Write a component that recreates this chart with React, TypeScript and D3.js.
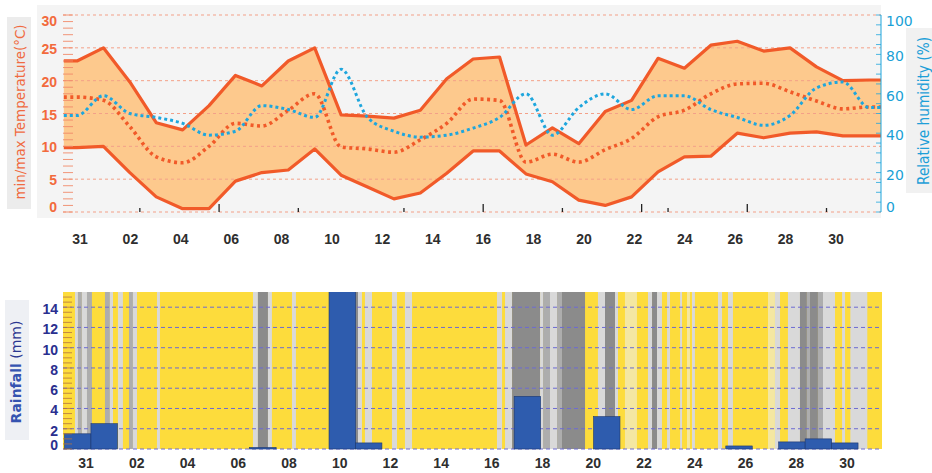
import React from "react";
import * as d3 from "d3";

// ---------- DATA ----------
const labelDays = [0, 2, 4, 6, 8, 10, 12, 14, 16, 18, 20, 22, 24, 26, 28, 30];
const dayLabels = ["31", "02", "04", "06", "08", "10", "12", "14", "16", "18", "20", "22", "24", "26", "28", "30"];

const tMax = [23, 25, 19.8, 13.6, 12.5, 16.2, 20.8, 19.2, 23, 25, 14.8, 14.6, 14.3, 15.5, 20.3, 23.3, 23.6, 10.2, 12.8, 10.4, 15.3, 17, 23.4, 21.9, 25.4, 26, 24.5, 25, 22.1, 20, 20.1];
const tMin = [9.8, 10, 6, 2.3, 0.5, 0.5, 4.7, 6, 6.4, 9.6, 5.6, 3.8, 2, 2.9, 5.9, 9.3, 9.3, 5.8, 4.6, 1.8, 1, 2.3, 6.1, 8.4, 8.5, 12, 11.3, 12, 12.2, 11.6, 11.6];
const tMean = [17.5, 17, 13, 8.4, 7.5, 10, 13.5, 13.1, 15.5, 18, 9.9, 9.6, 9.1, 11, 13.5, 17.2, 17, 7.6, 8.8, 7.6, 9.5, 11.2, 14.5, 15.5, 18, 19.5, 19.6, 18.3, 16.9, 15.7, 16];
const humidity = [49, 59, 50, 48, 45, 39, 41, 54, 52, 48, 72.5, 48, 41, 38, 39, 42.6, 48, 60, 39, 53, 60, 52, 59, 59, 52, 48, 44, 49, 63, 66, 53];

const tempTicks = [0, 5, 10, 15, 20, 25, 30];
const humTicks = [0, 20, 40, 60, 80, 100];
const rainTicks = [0, 2, 4, 6, 8, 10, 12, 14];

const rainBins = [0, 1, 7, 10, 11, 17, 20, 25, 27, 28, 29];
const rainValues = [1.5, 2.5, 0.15, 16, 0.6, 5.2, 3.2, 0.3, 0.7, 1.0, 0.6];

const axisTickPos = [2.88, 5.88, 8.88, 12.88, 15.88, 18.88, 21.88, 22.88, 25.88, 28.88];
const axisTickTall = [false, true, false, false, true, false, true, false, true, false];

// sunshine / cloud stripes in hours from start of period
const stripeStart = [9.5, 12.2, 15.8, 20.4, 36.7, 41.2, 48.5, 58.5, 62.1, 83.9, 171, 175.5, 184.6, 206.4, 263.6, 266.3, 272.6, 297.1, 308.9, 392.4, 399.7, 406.1, 431.5, 434.2, 440.5, 446.9, 451.4, 484, 490.4, 499.5, 508.5, 529.4, 533.1, 537.6, 546.7, 558.5, 564.8, 569.3, 592.9, 602, 638.3, 644.6, 656.4, 667.3, 673.6, 676.4, 683.6, 688.2, 705.5, 713];
const stripeEnd = [12.2, 15.8, 20.4, 24.9, 41.2, 44, 53, 62.1, 65.8, 86.6, 175.5, 184.6, 188.2, 210, 266.3, 269.9, 279, 301.7, 315.3, 397, 406.1, 431.5, 434.2, 440.5, 446.9, 451.4, 472.3, 490.4, 499.5, 502.2, 519.4, 533.1, 537.6, 542.1, 549.4, 560.3, 567.5, 572, 596.6, 606.5, 644.6, 649.2, 667.3, 673.6, 676.4, 683.6, 688.2, 699.1, 708.2, 728.4];
const stripeKind = ["light", "mid", "light", "mid", "mid", "light", "light", "mid", "light", "light", "light", "dark", "light", "light", "dark", "light", "light", "light", "light", "light", "light", "dark", "light", "mid", "light", "mid", "dark", "light", "dark", "light", "pale", "light", "dark", "light", "light", "light", "pale", "light", "light", "light", "pale", "light", "light", "dark", "mid", "dark", "mid", "light", "light", "light"];

// ---------- STYLE ----------
const W = 932;
const H = 473;
const ORANGE = "#f15a29";
const FILL = "#fdc98d";
const BLUE = "#1ea6dd";
const NAVY = "#2a2f8f";
const stripeColor: Record<string, string> = {
  light: "#d9d9d9",
  mid: "#adadad",
  dark: "#8b8b8b",
  pale: "#f4e7a2",
};

export default function App() {
  // top chart scales
  const px0 = 63, px1 = 881;
  const xTop = d3.scaleLinear().domain([0, 31]).range([63.8, 882.5]);
  const xTopLab = d3.scaleLinear().domain([0, 30]).range([80, 836]);
  const yT = d3.scaleLinear().domain([0, 30]).range([212, 15]);
  const yH = d3.scaleLinear().domain([0, 100]).range([212, 15]);

  // bottom chart scales
  const bx0 = 63, bx1 = 882;
  const xBot = d3.scaleLinear().domain([0, 31]).range([64.5, 884.5]);
  const xBotLab = d3.scaleLinear().domain([0, 30]).range([86, 847]);
  const yR = d3.scaleLinear().domain([0, 15.5]).range([449, 292]);

  const n = tMax.length;
  const pos = (i: number) => (i === 0 ? 0 : i === n + 1 ? 31 : i - 0.5);
  const ext = (arr: number[]) => [arr[0], ...arr, arr[n - 1]];
  const idx = d3.range(n + 2);

  const maxE = ext(tMax), minE = ext(tMin), meanE = ext(tMean), humE = ext(humidity);

  const area = d3
    .area<number>()
    .x((i) => xTop(pos(i)))
    .y0((i) => yT(minE[i]))
    .y1((i) => yT(maxE[i]));
  const lineOf = (arr: number[], y: d3.ScaleLinear<number, number>, curve: d3.CurveFactory) =>
    d3
      .line<number>()
      .x((i) => xTop(pos(i)))
      .y((i) => y(arr[i]))
      .curve(curve)(idx) as string;

  const hours = 24;
  const labelFont = "Liberation Sans, Arial, sans-serif";

  return (
    <svg width={W} height={H} style={{ position: "absolute", left: 0, top: 0, background: "#fff" }} fontFamily={labelFont}>
      <defs>
        <clipPath id="topClip">
          <rect x={px0} y={8} width={px1 - px0} height={210} />
        </clipPath>
        <clipPath id="botClip">
          <rect x={bx0} y={yR(15.5)} width={bx1 - bx0} height={yR(0) - yR(15.5) + 1} />
        </clipPath>
      </defs>

      {/* ===== TOP CHART ===== */}
      <rect x={37} y={5} width={px1 - 37} height={213} fill="#f4f4f4" />
      <rect x={7} y={17} width={24} height={192} fill="#ececec" />
      <rect x={906} y={28} width={26} height={165} fill="#f1f1f1" />

      <g clipPath="url(#topClip)">
        <path d={area(idx) as string} fill={FILL} />
        {tempTicks.map((t) => (
          <line key={"g" + t} x1={px0} x2={px1} y1={yT(t)} y2={yT(t)} stroke="#f3a088" strokeWidth={1} strokeDasharray="3 3" />
        ))}
        <path d={lineOf(maxE, yT, d3.curveLinear)} fill="none" stroke={ORANGE} strokeWidth={3.2} strokeLinejoin="round" />
        <path d={lineOf(minE, yT, d3.curveLinear)} fill="none" stroke={ORANGE} strokeWidth={3.2} strokeLinejoin="round" />
        <path d={lineOf(meanE, yT, d3.curveMonotoneX)} fill="none" stroke={ORANGE} strokeWidth={3.6} strokeDasharray="3 3.5" />
        <path d={lineOf(humE, yH, d3.curveMonotoneX)} fill="none" stroke={BLUE} strokeWidth={3} strokeDasharray="3 3" />
      </g>

      {/* left minor ticks */}
      {d3.range(0, 31).map((t) => (
        <line key={"mt" + t} x1={px0} x2={px0 + 10} y1={yT(t)} y2={yT(t)} stroke="#f08a6a" strokeWidth={0.9} />
      ))}
      {/* bottom axis small ticks */}
      {axisTickPos.map((p, i) => (
        <line key={"at" + i} x1={xTop(p)} x2={xTop(p)} y1={212} y2={212 - (axisTickTall[i] ? 8 : 4)} stroke="#222" strokeWidth={1.3} />
      ))}
      {/* right axis */}
      <line x1={px1} x2={px1} y1={15} y2={212} stroke={BLUE} strokeWidth={1} />
      {d3.range(0, 101, 5).map((h) => (
        <line key={"rh" + h} x1={px1 - 5} x2={px1} y1={yH(h)} y2={yH(h)} stroke={BLUE} strokeWidth={0.8} />
      ))}

      {/* left tick labels */}
      {tempTicks.map((t) => {
        let y = yT(t) + 1;
        if (t === 30) y = 21;
        if (t === 0) y = 207;
        return (
          <text key={"tl" + t} x={57} y={y} textAnchor="end" dominantBaseline="central" fontSize={14} fontWeight="bold" fill="#f26a3c">
            {t}
          </text>
        );
      })}
      {/* right tick labels */}
      {humTicks.map((h) => {
        let y = yH(h) + 2;
        if (h === 100) y = 21;
        if (h === 0) y = 207;
        return (
          <text key={"hl" + h} x={886} y={y} dominantBaseline="central" fontSize={14} fontFamily="DejaVu Sans, sans-serif" fill="#1a9fd6">
            {h}
          </text>
        );
      })}
      {/* titles */}
      <text
        transform="translate(25,112) rotate(-90)"
        textAnchor="middle"
        fontSize={13.5}
        fontFamily="DejaVu Sans, sans-serif"
        fill="#f06a40"
        textLength={175}
        lengthAdjust="spacingAndGlyphs"
      >
        min/max Temperature(°C)
      </text>
      <text
        transform="translate(929,111) rotate(-90)"
        textAnchor="middle"
        fontSize={15}
        fontFamily="DejaVu Sans, sans-serif"
        fill="#1e9fd8"
        textLength={148}
        lengthAdjust="spacingAndGlyphs"
      >
        Relative humidity (%)
      </text>
      {/* top x labels */}
      {labelDays.map((d, i) => (
        <text key={"xt" + d} x={xTopLab(d)} y={244} textAnchor="middle" fontSize={14} fontWeight="bold" fill="#2e2e2e">
          {dayLabels[i]}
        </text>
      ))}

      {/* ===== BOTTOM CHART ===== */}
      <rect x={5} y={300} width={24} height={140} fill="#eef0f4" />
      <g clipPath="url(#botClip)">
        <rect x={bx0} y={yR(15.5)} width={bx1 - bx0} height={yR(0) - yR(15.5)} fill="#fddc3c" />
        {stripeStart.map((s, i) => (
          <rect
            key={"st" + i}
            x={xBot(s / hours)}
            y={yR(15.5)}
            width={xBot(stripeEnd[i] / hours) - xBot(s / hours)}
            height={yR(0) - yR(15.5)}
            fill={stripeColor[stripeKind[i]]}
          />
        ))}
        {rainTicks.map((t) => (
          <line key={"rg" + t} x1={bx0} x2={bx1} y1={yR(t)} y2={yR(t)} stroke="#6d6bd2" strokeWidth={1} strokeDasharray="4 3" />
        ))}
        {rainBins.map((b, i) => (
          <rect
            key={"rb" + i}
            x={xBot(b)}
            y={yR(rainValues[i])}
            width={xBot(b + 1) - xBot(b)}
            height={yR(0) - yR(rainValues[i])}
            fill="#2e5cae"
            stroke="#1c3770"
            strokeWidth={0.6}
          />
        ))}
      </g>
      {d3.range(0, 15.5, 0.5).map((t) => (
        <line key={"rm" + t} x1={bx0} x2={bx0 + 9} y1={yR(t)} y2={yR(t)} stroke="#b27442" strokeWidth={0.8} />
      ))}
      {rainTicks.map((t) => (
        <text
          key={"rl" + t}
          x={58}
          y={t === 0 ? 445 : yR(t) + 2}
          textAnchor="end"
          dominantBaseline="central"
          fontSize={14}
          fontWeight="bold"
          fill={NAVY}
        >
          {t}
        </text>
      ))}
      <text transform="translate(21,372) rotate(-90)" textAnchor="middle" fontSize={14} fontFamily="DejaVu Sans, sans-serif">
        <tspan fontWeight="bold" fill="#3553b0">Rainfall</tspan>
        <tspan fill="#2a3590"> (mm)</tspan>
      </text>
      {labelDays.map((d, i) => (
        <text key={"xb" + d} x={xBotLab(d)} y={468} textAnchor="middle" fontSize={14} fontWeight="bold" fill="#2e2e2e">
          {dayLabels[i]}
        </text>
      ))}
    </svg>
  );
}
